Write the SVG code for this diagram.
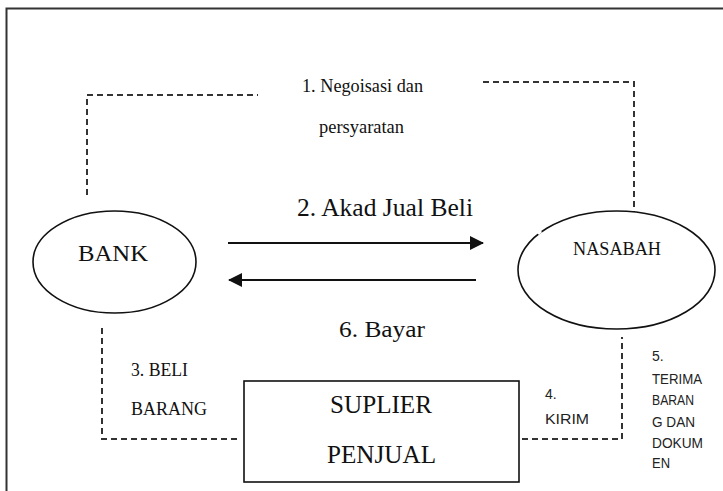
<svg xmlns="http://www.w3.org/2000/svg" width="723" height="491" viewBox="0 0 723 491">
<style>
.dash{fill:none;stroke:#333;stroke-width:2;stroke-dasharray:6 4}
.node{fill:#fff;stroke:#111;stroke-width:1.6}
.arrow{stroke:#111;stroke-width:2;fill:none}
</style>
<defs>
<marker id="ah" viewBox="0 0 14 14" refX="13" refY="7" markerWidth="14" markerHeight="14" markerUnits="userSpaceOnUse" orient="auto">
<path d="M0,0 L14,7 L0,14 Z" fill="#111"/>
</marker>
</defs>
<rect width="723" height="491" fill="#fff"/>
<path d="M6.5,491 V8.5 H723" fill="none" stroke="#333" stroke-width="2"/>
<g id="connectors">
<path class="dash" d="M87,195 V95 H258"/>
<path class="dash" d="M483,82 H634 V212"/>
<path class="dash" d="M102,328 V439 H241"/>
<path class="dash" d="M522,439 H622 V337"/>
<line class="arrow" x1="228" y1="243" x2="483" y2="243" marker-end="url(#ah)"/>
<line class="arrow" x1="476" y1="280" x2="229" y2="280" marker-end="url(#ah)"/>
</g>
<g id="labels" font-family="Liberation Serif" fill="#111">
<text x="302" y="92" font-size="18" textLength="121" lengthAdjust="spacingAndGlyphs">1. Negoisasi dan</text>
<text x="319" y="133" font-size="18" textLength="85" lengthAdjust="spacingAndGlyphs">persyaratan</text>
<text x="297" y="216" font-size="25" textLength="176" lengthAdjust="spacingAndGlyphs">2. Akad Jual Beli</text>
<text x="339" y="337" font-size="24" textLength="86" lengthAdjust="spacingAndGlyphs">6. Bayar</text>
<text x="131" y="376" font-size="18" textLength="57" lengthAdjust="spacingAndGlyphs">3. BELI</text>
<text x="131" y="415" font-size="18" textLength="76" lengthAdjust="spacingAndGlyphs">BARANG</text>
</g>
<g id="labels-sans" font-family="Liberation Sans" font-size="14" fill="#222">
<text x="545" y="399">4.</text>
<text x="545" y="424" textLength="44" lengthAdjust="spacingAndGlyphs">KIRIM</text>
<text x="652" y="361">5.</text>
<text x="652" y="384" textLength="50" lengthAdjust="spacingAndGlyphs">TERIMA</text>
<text x="652" y="405" textLength="42" lengthAdjust="spacingAndGlyphs">BARAN</text>
<text x="652" y="427" textLength="43" lengthAdjust="spacingAndGlyphs">G DAN</text>
<text x="652" y="448" textLength="51" lengthAdjust="spacingAndGlyphs">DOKUM</text>
<text x="652" y="468" textLength="18" lengthAdjust="spacingAndGlyphs">EN</text>
</g>
<g id="bank" font-family="Liberation Serif" fill="#111">
<ellipse class="node" cx="114.5" cy="262" rx="81.5" ry="51"/>
<text x="78" y="261" font-size="24" textLength="70" lengthAdjust="spacingAndGlyphs">BANK</text>
</g>
<g id="nasabah" font-family="Liberation Serif" fill="#111">
<ellipse class="node" cx="616.5" cy="270" rx="98.5" ry="59"/>
<line x1="538" y1="234" x2="541" y2="231" stroke="#fff" stroke-width="3"/>
<text x="573" y="255" font-size="18" textLength="88" lengthAdjust="spacingAndGlyphs">NASABAH</text>
</g>
<g id="suplier" font-family="Liberation Serif" fill="#111">
<rect class="node" x="244" y="381" width="275" height="101" stroke-width="2"/>
<text x="330" y="413" font-size="25" textLength="102" lengthAdjust="spacingAndGlyphs">SUPLIER</text>
<text x="327" y="463" font-size="25" textLength="109" lengthAdjust="spacingAndGlyphs">PENJUAL</text>
</g>
</svg>
